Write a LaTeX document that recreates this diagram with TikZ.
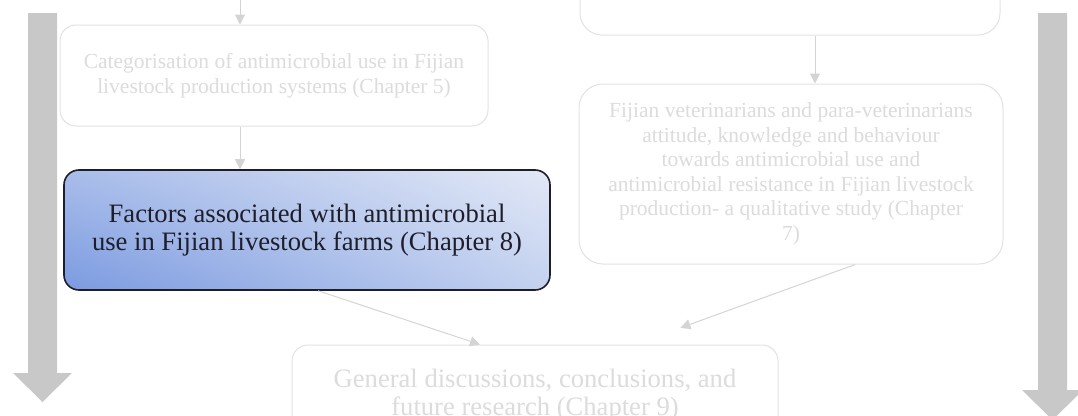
\documentclass[tikz,border=0pt]{standalone}
\usepackage{fontspec}
\setmainfont{Liberation Serif}
\usetikzlibrary{arrows.meta,shadings,calc}

\definecolor{bandgray}{HTML}{C8C8C8}
\definecolor{fadeline}{HTML}{E2E2E2}
\definecolor{fadetext}{HTML}{DCDCDC}
\definecolor{fadearrow}{HTML}{D4D4D4}
\definecolor{inkdark}{HTML}{1E1E2A}
\definecolor{blueLL}{HTML}{7B9AE0}
\definecolor{blueUL}{HTML}{A9BDEA}
\definecolor{blueUR}{HTML}{E2E8F6}
\definecolor{blueLR}{HTML}{C4D2F0}

\tikzset{
  fadebox/.style={draw=fadeline, line width=1pt, fill=white, text=fadetext,
    align=center, inner sep=0pt},
  smalltext/.style={font=\fontsize{21.5}{24.5}\selectfont},
  bigtext/.style={font=\fontsize{26.6}{28.8}\selectfont},
  flowarrow/.style={draw=fadearrow, line width=1pt,
    -{Triangle[length=10pt,width=10pt,fill=fadearrow]}},
  focusbox/.style={draw=inkdark, line width=1.6pt, text=inkdark, align=center,
    lower left=blueLL, upper left=blueUL, upper right=blueUR, lower right=blueLR,
    rounded corners=15pt, inner sep=0pt}
}

\begin{document}
\begin{tikzpicture}[x=1pt,y=-1pt]
  \useasboundingbox (0,0) rectangle (1078,415);
  \clip (0,0) rectangle (1078,415);

  % broad grey timeline arrows on both sides
  \fill[bandgray] (28,13) -- (57,13) -- (57,373) -- (72,373) -- (42.5,402)
                  -- (13,373) -- (28,373) -- cycle;
  \fill[bandgray] (1038,13) -- (1067,13) -- (1067,390) -- (1083,390) -- (1052.5,420)
                  -- (1022,390) -- (1038,390) -- cycle;

  % chapter boxes
  \node[fadebox, smalltext, rounded corners=16pt, minimum width=428pt, minimum height=101pt]
    (catbox) at (274,75.5)
    {Categorisation of antimicrobial use in Fijian\\livestock production systems (Chapter 5)};

  \node[fadebox, smalltext, rounded corners=22pt, minimum width=420pt, minimum height=100pt]
    (prevbox) at (790,-15) {};

  \node[fadebox, smalltext, rounded corners=24pt, minimum width=424pt, minimum height=180pt]
    (vetbox) at (791,174)
    {Fijian veterinarians and para-veterinarians\\attitude, knowledge and behaviour\\
     towards antimicrobial use and\\antimicrobial resistance in Fijian livestock\\
     production- a qualitative study (Chapter\\7)};

  \node[focusbox, bigtext, minimum width=486pt, minimum height=120pt]
    (factbox) at (307,230)
    {Factors associated with antimicrobial\\use in Fijian livestock farms (Chapter 8)};

  \node[fadebox, bigtext, rounded corners=16pt, minimum width=486pt, minimum height=100pt]
    (genbox) at (535,395)
    {General discussions, conclusions, and\\future research (Chapter 9)};

  % connectors
  \coordinate (fromabove) at (240,-10);
  \draw[flowarrow] (fromabove) -- (fromabove |- catbox.north);
  \draw[flowarrow] (catbox.south -| 240,0) -- (factbox.north -| 240,0);
  \draw[flowarrow] (prevbox.south -| 815,0) -- (vetbox.north -| 815,0);
  \draw[flowarrow] ($(factbox.south west)!0.523!(factbox.south east)$)
                -- ($(genbox.north west)!0.387!(genbox.north east)$);
  \draw[flowarrow, shorten >=49pt] ($(vetbox.south west)!0.651!(vetbox.south east)$)
                -- ($(genbox.north west)!0.704!(genbox.north east)$);
\end{tikzpicture}
\end{document}
